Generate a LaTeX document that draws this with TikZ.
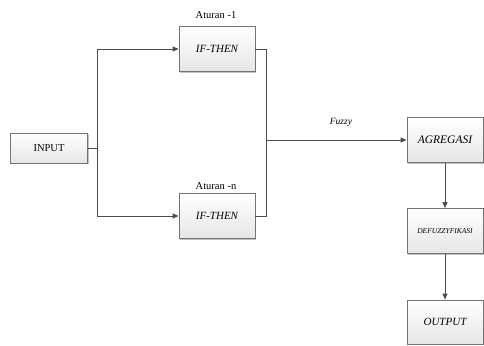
\documentclass[tikz,border=0pt]{standalone}
\usepackage{fontspec}
\setmainfont{Liberation Serif}
\usetikzlibrary{shadows,arrows.meta}
\begin{document}
\begin{tikzpicture}[x=1pt,y=-1pt,
  blok/.style={draw=black!55, line width=0.8pt, top color=white, bottom color=black!10,
    minimum width=76pt, minimum height=45pt, inner sep=1pt,
    drop shadow={shadow xshift=1.2pt, shadow yshift=-1.2pt, opacity=0.4, fill=black!60}},
  garis/.style={draw=black!70, line width=0.8pt},
  panah/.style={garis, -{Triangle[length=6pt,width=5pt]}},
  lbl/.style={inner sep=0pt}]
\useasboundingbox (0,0) rectangle (484,345);
\node[blok, minimum height=30pt, minimum width=77pt, font=\fontsize{10.5}{12}\selectfont] (in) at (49,148) {INPUT};
\node[blok, font=\fontsize{11}{12}\itshape] (r1) at (217,49) {IF-THEN};
\node[blok, font=\fontsize{11}{12}\itshape] (rn) at (217,216) {IF-THEN};
\node[lbl, font=\fontsize{10.5}{12}\selectfont, anchor=base] (l1) at (216,19) {Aturan -1};
\node[lbl, font=\fontsize{10.5}{12}\selectfont, anchor=base] (ln) at (216,189) {Aturan -n};
\node[blok, font=\fontsize{11.5}{12}\itshape] (ag) at (445,140) {AGREGASI};
\node[blok, font=\fontsize{7.5}{9}\itshape] (df) at (445,231) {DEFUZZYFIKASI};
\node[blok, minimum height=44pt, font=\fontsize{11}{12}\itshape] (out) at (445,322) {OUTPUT};
\node[lbl, font=\fontsize{9.5}{11}\itshape, anchor=base] (fz) at (341,124) {Fuzzy};
\coordinate (bx) at (97,148);
\coordinate (mx) at (266,140);
\draw[garis] (in.east) -- (bx);
\draw[panah] (bx) |- (r1.west);
\draw[panah] (bx) |- (rn.west);
\draw[garis] (r1.east) -| (mx);
\draw[garis] (rn.east) -| (mx);
\draw[panah] (mx) -- (ag.west);
\draw[panah] (ag.south) -- (df.north);
\draw[panah] (df.south) -- (out.north);
\end{tikzpicture}
\end{document}
